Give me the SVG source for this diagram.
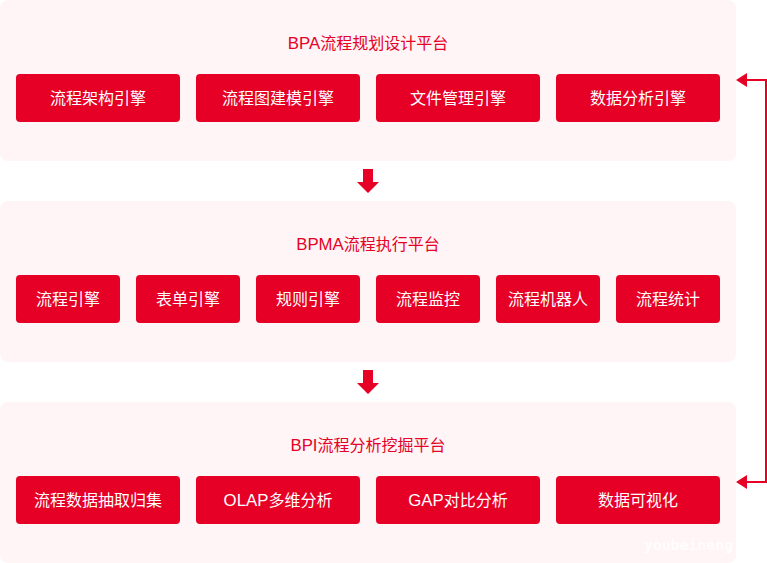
<svg xmlns="http://www.w3.org/2000/svg" width="767" height="563" viewBox="0 0 767 563">
<style>
.panel{fill:#fff5f6}
.btn{fill:#e60026}
text{font-family:"Liberation Sans","Noto Sans CJK SC",sans-serif;text-anchor:middle}
.t{font-size:16px;fill:#e60026}
.b{font-size:16px;fill:#fff}
.l{font-size:16.8px}
.flow{fill:none;stroke:#e60026;stroke-width:2}
.head{fill:#e60026}
.wm{font-family:"DejaVu Sans Mono",monospace;font-size:14.8px;font-weight:bold;fill:#fff;text-anchor:start;opacity:.85}
</style>
<rect width="767" height="563" fill="#fff"/>
<g id="platform-bpa">
<rect class="panel" x="0" y="0" width="736" height="161" rx="8"/>
<text class="t" x="368" y="49"><tspan class="l">BPA</tspan>流程规划设计平台</text>
</g>
<g id="bpa-1"><rect class="btn" x="16" y="74" width="164" height="48" rx="4"/><text class="b" x="98" y="104">流程架构引擎</text></g>
<g id="bpa-2"><rect class="btn" x="196" y="74" width="164" height="48" rx="4"/><text class="b" x="278" y="104">流程图建模引擎</text></g>
<g id="bpa-3"><rect class="btn" x="376" y="74" width="164" height="48" rx="4"/><text class="b" x="458" y="104">文件管理引擎</text></g>
<g id="bpa-4"><rect class="btn" x="556" y="74" width="164" height="48" rx="4"/><text class="b" x="638" y="104">数据分析引擎</text></g>
<g id="platform-bpma">
<rect class="panel" x="0" y="201" width="736" height="161" rx="8"/>
<text class="t" x="368" y="250"><tspan class="l">BPMA</tspan>流程执行平台</text>
</g>
<g id="bpma-1"><rect class="btn" x="16" y="275" width="104" height="48" rx="4"/><text class="b" x="68" y="305">流程引擎</text></g>
<g id="bpma-2"><rect class="btn" x="136" y="275" width="104" height="48" rx="4"/><text class="b" x="188" y="305">表单引擎</text></g>
<g id="bpma-3"><rect class="btn" x="256" y="275" width="104" height="48" rx="4"/><text class="b" x="308" y="305">规则引擎</text></g>
<g id="bpma-4"><rect class="btn" x="376" y="275" width="104" height="48" rx="4"/><text class="b" x="428" y="305">流程监控</text></g>
<g id="bpma-5"><rect class="btn" x="496" y="275" width="104" height="48" rx="4"/><text class="b" x="548" y="305">流程机器人</text></g>
<g id="bpma-6"><rect class="btn" x="616" y="275" width="104" height="48" rx="4"/><text class="b" x="668" y="305">流程统计</text></g>
<g id="platform-bpi">
<rect class="panel" x="0" y="402" width="736" height="161" rx="8"/>
<text class="t" x="368" y="451"><tspan class="l">BPI</tspan>流程分析挖掘平台</text>
</g>
<g id="bpi-1"><rect class="btn" x="16" y="476" width="164" height="48" rx="4"/><text class="b" x="98" y="506">流程数据抽取归集</text></g>
<g id="bpi-2"><rect class="btn" x="196" y="476" width="164" height="48" rx="4"/><text class="b" x="278" y="506"><tspan class="l">OLAP</tspan>多维分析</text></g>
<g id="bpi-3"><rect class="btn" x="376" y="476" width="164" height="48" rx="4"/><text class="b" x="458" y="506"><tspan class="l">GAP</tspan>对比分析</text></g>
<g id="bpi-4"><rect class="btn" x="556" y="476" width="164" height="48" rx="4"/><text class="b" x="638" y="506">数据可视化</text></g>
<g id="connectors">
<path class="head" d="M363 169h10v13h6l-11 11-11-11h6z"/>
<path class="head" d="M363 370h10v13h6l-11 11-11-11h6z"/>
<path class="flow" d="M746 80H766V482H746"/>
<path class="head" d="M736 80l11-7v14z"/>
<path class="head" d="M736 482l11-7v14z"/>
</g>
<text class="wm" x="644" y="550">youbeineng</text>
</svg>
